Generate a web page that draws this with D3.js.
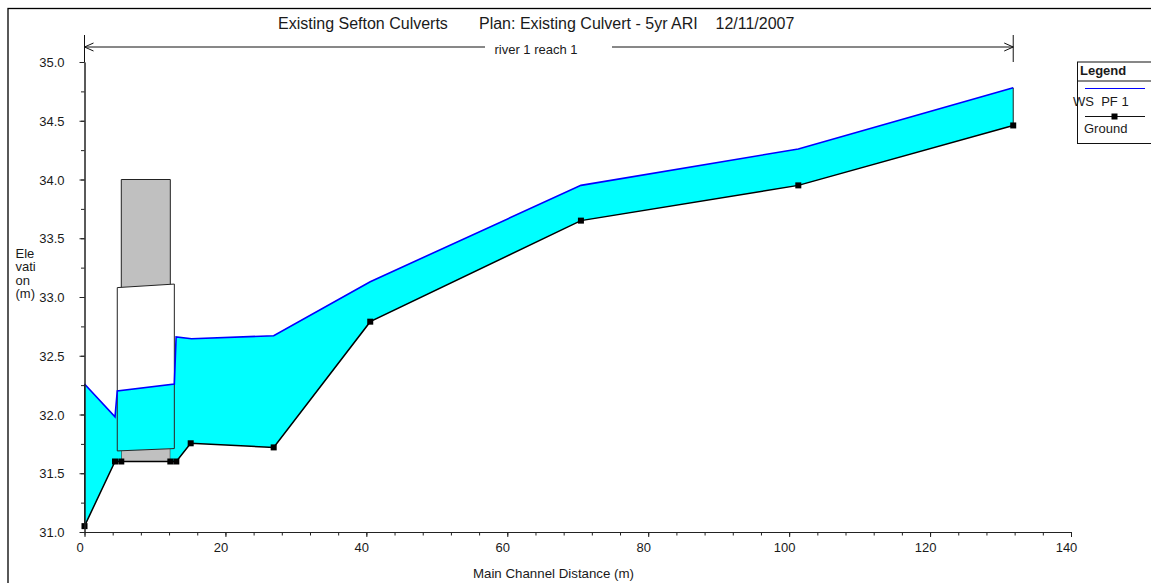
<!DOCTYPE html>
<html>
<head>
<meta charset="utf-8">
<script src="https://cdn.jsdelivr.net/npm/d3@7"></script>
<style>
	html, body { margin: 0; padding: 0; background: #fff; }
	svg { display: block; }
	text { font-family: "Liberation Sans", Arial, sans-serif; font-size: 13px; fill: #1a1a1a; }
</style>
</head>
<body>
<div id="chart"></div>
<script>
// station (m) and elevation (m)
var groundStations = [0, 4.33, 5.22, 12.18, 13.03, 15.07, 26.85, 40.55, 70.45, 101.3, 131.8];
var groundElevations = [31.05, 31.6, 31.6, 31.6, 31.6, 31.755, 31.72, 32.79, 33.65, 33.95, 34.46];
var wsStations = [0, 4.33, 4.65, 12.75, 13.0, 15.2, 26.85, 40.55, 70.45, 101.3, 131.8];
var wsElevations = [32.26, 31.98, 32.2, 32.26, 32.66, 32.645, 32.67, 33.13, 33.95, 34.26, 34.78];

// culvert deck and barrel
var deckStations = [5.22, 12.18];
var deckTop = 34.0;
var deckBottom = 31.6;
var barrelStations = [4.65, 12.75];
var barrelTop = [33.08, 33.11];
var barrelBottom = [31.69, 31.71];

var xTicks = [0, 20, 40, 60, 80, 100, 120, 140];
var yTicks = [31, 31.5, 32, 32.5, 33, 33.5, 34, 34.5, 35];
var titleText = 'Existing Sefton Culverts       Plan: Existing Culvert - 5yr ARI    12/11/2007';
var reachName = 'river 1 reach 1';
var yLabelLines = ['Ele', 'vati', 'on', '(m)'];

var width = 1151, height = 583;
var margin = {left: 84.5, right: 80, top: 62, bottom: 51};

var svg = d3.select('#chart')
	.append('svg')
	.attr('width', width)
	.attr('height', height);

var x = d3.scaleLinear().domain([0, 140]).range([margin.left, width - margin.right]);
var y = d3.scaleLinear().domain([31, 35]).range([height - margin.bottom, margin.top]);

// outer frame, runs off the right and bottom of the window
svg.append('rect')
	.attr('x', 8).attr('y', 8.5)
	.attr('width', width).attr('height', height)
	.style('fill', 'none')
	.style('stroke', '#000')
	.style('stroke-width', 1.3);

var lineGen = d3.line()
	.x(function(d) { return x(d[0]); })
	.y(function(d) { return y(d[1]); });

var ground = d3.zip(groundStations, groundElevations);
var ws = d3.zip(wsStations, wsElevations);

var between = function(points, a, b) {
	return points.filter(function(p) { return p[0] >= a && p[0] <= b; });
};

// deck behind everything
svg.append('path')
	.attr('d', lineGen([[deckStations[0], deckBottom], [deckStations[0], deckTop], [deckStations[1], deckTop], [deckStations[1], deckBottom]]) + 'Z')
	.style('fill', '#c0c0c0')
	.style('stroke', '#222')
	.style('stroke-width', 1);

// barrel opening is white above the water
var barrel = [
	[barrelStations[0], barrelBottom[0]],
	[barrelStations[0], barrelTop[0]],
	[barrelStations[1], barrelTop[1]],
	[barrelStations[1], barrelBottom[1]]
];
svg.append('path')
	.attr('d', lineGen(barrel) + 'Z')
	.style('fill', '#fff')
	.style('stroke', 'none');

// water is split at the barrel so the grey sill stays visible
var upstreamWater = between(ws, 0, barrelStations[0])
	.concat([[barrelStations[0], barrelBottom[0]], [deckStations[0], barrelBottom[0]]])
	.concat(between(ground, 0, deckStations[0]).reverse());
var barrelWater = [
	[barrelStations[0], barrelBottom[0]]
].concat(between(ws, barrelStations[0], barrelStations[1]))
	.concat([[barrelStations[1], barrelBottom[1]]]);
var downstreamWater = between(ws, barrelStations[1], 132)
	.concat(between(ground, deckStations[1], 132).reverse())
	.concat([[deckStations[1], barrelBottom[1]], [barrelStations[1], barrelBottom[1]]]);

[upstreamWater, barrelWater, downstreamWater].forEach(function(area) {
	svg.append('path')
		.attr('d', lineGen(area) + 'Z')
		.style('fill', '#00ffff')
		.style('stroke', 'none');
});

svg.append('path')
	.attr('d', lineGen(barrel) + 'Z')
	.style('fill', 'none')
	.style('stroke', '#222')
	.style('stroke-width', 1);

// closing edge of the water at both ends
[0, ws.length - 1].forEach(function(i) {
	svg.append('path')
		.attr('d', lineGen([ws[i], ground[i]]))
		.style('stroke', '#222')
		.style('fill', 'none');
});

svg.append('path')
	.attr('d', lineGen(ws))
	.style('fill', 'none')
	.style('stroke', '#0000ff')
	.style('stroke-width', 1.6);

svg.append('path')
	.attr('d', lineGen(ground))
	.style('fill', 'none')
	.style('stroke', '#000')
	.style('stroke-width', 1.5);

svg.selectAll('.ground-point')
	.data(ground)
	.enter()
	.append('rect')
	.attr('class', 'ground-point')
	.attr('x', function(d) { return x(d[0]) - 3; })
	.attr('y', function(d) { return y(d[1]) - 3; })
	.attr('width', 6)
	.attr('height', 6)
	.style('fill', '#000');

// axes
var xAxisMinor = d3.axisBottom(x).tickValues(d3.range(0, 141, 4)).tickSize(3.5).tickSizeOuter(0).tickFormat('');
var xAxis = d3.axisBottom(x).tickValues(xTicks).tickSize(5).tickSizeOuter(0).tickPadding(6).tickFormat(d3.format('d'));
var yAxisMinor = d3.axisLeft(y).tickValues(d3.range(31, 35.01, 0.25)).tickSize(3.5).tickSizeOuter(0).tickFormat('');
var yAxis = d3.axisLeft(y).tickValues(yTicks).tickSize(5).tickSizeOuter(0).tickPadding(15).tickFormat(d3.format('.1f'));

[xAxisMinor, xAxis].forEach(function(a) {
	svg.append('g')
		.attr('transform', 'translate(0,' + y(31) + ')')
		.call(a)
		.selectAll('.tick text')
		.attr('dx', -5);
});
[yAxisMinor, yAxis].forEach(function(a) {
	svg.append('g')
		.attr('transform', 'translate(' + x(0) + ',0)')
		.call(a)
		.selectAll('.tick text')
		.attr('dy', '0.36em');
});
svg.selectAll('.domain').style('stroke', '#222');
svg.selectAll('.tick line').style('stroke', '#222');
svg.selectAll('.tick text')
	.style('font-size', '13px')
	.style('font-family', '"Liberation Sans", Arial, sans-serif');

svg.append('text')
	.attr('x', 278)
	.attr('y', 29)
	.style('font-size', '16px')
	.style('white-space', 'pre')
	.text(titleText);

svg.append('text')
	.attr('x', 553.5)
	.attr('y', 578)
	.attr('text-anchor', 'middle')
	.style('font-size', '13.3px')
	.text('Main Channel Distance (m)');

yLabelLines.forEach(function(s, i) {
	svg.append('text')
		.attr('x', 15.5)
		.attr('y', 258 + i * 13.4)
		.text(s);
});

// reach arrow
var reachY = 47;
var reachEnds = [x(0), x(groundStations[groundStations.length - 1])];
var textGap = [485, 612];
var ink = function(sel) { return sel.style('stroke', '#111').style('fill', 'none').style('stroke-width', 1); };
ink(svg.append('path').attr('d', d3.line()([[reachEnds[0], reachY], [textGap[0], reachY]])));
ink(svg.append('path').attr('d', d3.line()([[textGap[1], reachY], [reachEnds[1], reachY]])));
ink(svg.append('path').attr('d', d3.line()([[reachEnds[0], 35], [reachEnds[0], y(35)]])));
ink(svg.append('path').attr('d', d3.line()([[reachEnds[1], 35], [reachEnds[1], 62]])));
ink(svg.append('path').attr('d', d3.line()([[reachEnds[0] + 9, reachY - 4], [reachEnds[0], reachY], [reachEnds[0] + 9, reachY + 4]])));
ink(svg.append('path').attr('d', d3.line()([[reachEnds[1] - 9, reachY - 4], [reachEnds[1], reachY], [reachEnds[1] - 9, reachY + 4]])));
svg.append('text')
	.attr('x', 536)
	.attr('y', 54)
	.attr('text-anchor', 'middle')
	.text(reachName);

// legend, its right side is cut by the window
var legend = svg.append('g').attr('transform', 'translate(1077,61.5)');
legend.append('rect')
	.attr('x', 0.5).attr('y', 0.5)
	.attr('width', 100).attr('height', 81.5)
	.style('fill', '#fff')
	.style('stroke', '#111');
ink(legend.append('path').attr('d', 'M0,19.5H100'));
legend.append('text').attr('x', 3).attr('y', 13.5).style('font-weight', 'bold').text('Legend');
legend.append('path').attr('d', 'M8,27H68').style('stroke', '#0000ff').style('fill', 'none').style('stroke-width', 1);
legend.append('text').attr('x', -4).attr('y', 44.5).style('white-space', 'pre').text('WS  PF 1');
ink(legend.append('path').attr('d', 'M8,55H68'));
legend.append('rect').attr('x', 34.5).attr('y', 52).attr('width', 6).attr('height', 6).style('fill', '#000');
legend.append('text').attr('x', 7).attr('y', 71).text('Ground');
</script>
</body>
</html>
